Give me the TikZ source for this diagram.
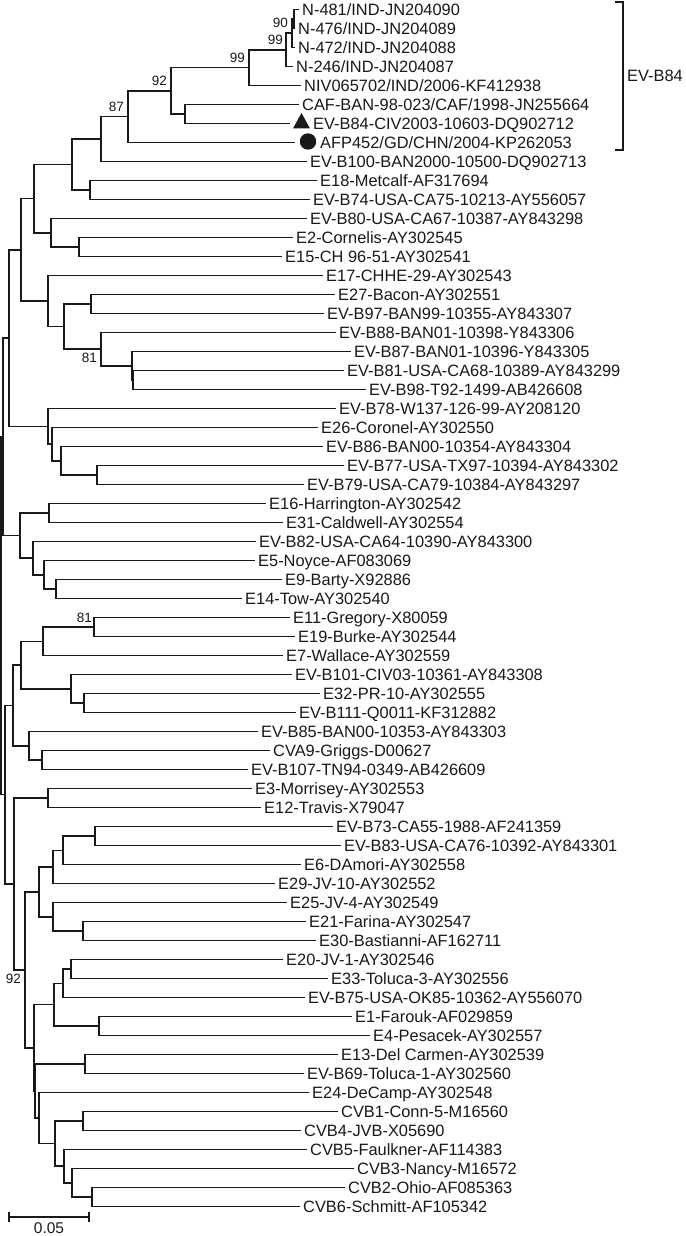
\documentclass[tikz,border=0pt]{standalone}
\usepackage{fontspec}
\setmainfont{Liberation Sans}
\usetikzlibrary{calc,positioning}

\newcommand{\mkclade}[4]{%
  \path (#3) -- (#4) coordinate[pos=.5] (#1m);
  \coordinate (#1) at (#2,0 |- #1m);
  \draw[branch] (#3) -| (#1) |- (#4);
}

\begin{document}
\begin{tikzpicture}[x=1pt, y=-1pt, black!90,
    branch/.style = {line width=1.5pt},
    leaf/.style = {anchor=west, inner xsep=3pt, inner ysep=0pt, text height=11.7pt, text depth=0pt, font=\fontsize{16.4}{18}\selectfont},
    boot/.style = {inner sep=0pt, font=\fontsize{13.5}{15}\selectfont},
    bracket/.style = {line width=1.1pt},
    scalebar/.style = {line width=2.5pt}]
\useasboundingbox (0,0) rectangle (685,1236);

\foreach \t/\name [count=\i] in {
    299/{N-481/IND-JN204090}, 295/{N-476/IND-JN204089}, 295/{N-472/IND-JN204088}, 293/{N-246/IND-JN204087},
    301/{NIV065702/IND/2006-KF412938}, 299/{CAF-BAN-98-023/CAF/1998-JN255664},
    290/{\hspace*{20pt}EV-B84-CIV2003-10603-DQ902712}, 295/{\hspace*{22pt}AFP452/GD/CHN/2004-KP262053},
    307/{EV-B100-BAN2000-10500-DQ902713}, 317/{E18-Metcalf-AF317694}, 310/{EV-B74-USA-CA75-10213-AY556057},
    307/{EV-B80-USA-CA67-10387-AY843298}, 293/{E2-Cornelis-AY302545}, 282/{E15-CH 96-51-AY302541},
    323/{E17-CHHE-29-AY302543}, 335/{E27-Bacon-AY302551}, 324/{EV-B97-BAN99-10355-AY843307},
    336/{EV-B88-BAN01-10398-Y843306}, 351/{EV-B87-BAN01-10396-Y843305}, 344/{EV-B81-USA-CA68-10389-AY843299},
    366/{EV-B98-T92-1499-AB426608}, 336/{EV-B78-W137-126-99-AY208120}, 318/{E26-Coronel-AY302550},
    323/{EV-B86-BAN00-10354-AY843304}, 344/{EV-B77-USA-TX97-10394-AY843302}, 304/{EV-B79-USA-CA79-10384-AY843297},
    266/{E16-Harrington-AY302542}, 283/{E31-Caldwell-AY302554}, 256/{EV-B82-USA-CA64-10390-AY843300},
    255/{E5-Noyce-AF083069}, 282/{E9-Barty-X92886}, 242/{E14-Tow-AY302540},
    290/{E11-Gregory-X80059}, 295/{E19-Burke-AY302544}, 283/{E7-Wallace-AY302559},
    292/{EV-B101-CIV03-10361-AY843308}, 320/{E32-PR-10-AY302555}, 296/{EV-B111-Q0011-KF312882},
    258/{EV-B85-BAN00-10353-AY843303}, 270/{CVA9-Griggs-D00627}, 248/{EV-B107-TN94-0349-AB426609},
    252/{E3-Morrisey-AY302553}, 261/{E12-Travis-X79047}, 333/{EV-B73-CA55-1988-AF241359},
    341/{EV-B83-USA-CA76-10392-AY843301}, 301/{E6-DAmori-AY302558}, 275/{E29-JV-10-AY302552},
    287/{E25-JV-4-AY302549}, 306/{E21-Farina-AY302547}, 316/{E30-Bastianni-AF162711},
    283/{E20-JV-1-AY302546}, 328/{E33-Toluca-3-AY302556}, 305/{EV-B75-USA-OK85-10362-AY556070},
    352/{E1-Farouk-AF029859}, 370/{E4-Pesacek-AY302557}, 338/{E13-Del Carmen-AY302539},
    304/{EV-B69-Toluca-1-AY302560}, 309/{E24-DeCamp-AY302548}, 338/{CVB1-Conn-5-M16560},
    301/{CVB4-JVB-X05690}, 307/{CVB5-Faulkner-AF114383}, 354/{CVB3-Nancy-M16572},
    345/{CVB2-Ohio-AF085363}, 300/{CVB6-Schmitt-AF105342}}
  \node[leaf] (l\i) at (\t,{9.5+19*(\i-1)}) {\name};

\fill (293,128.5) -- (310,128.5) -- (301.5,113) -- cycle;
\fill (308,141.5) circle (8.2);

\mkclade{nY}{294}{l1.west}{l2.west}
\mkclade{nX}{292}{nY}{l3.west}
\mkclade{n99b}{286}{nX}{l4.west}
\mkclade{n99a}{249}{n99b}{l5.west}
\mkclade{nCAF}{185}{l6.west}{l7.west}
\mkclade{n92}{171}{n99a}{nCAF}
\mkclade{n87}{128}{n92}{l8.west}
\mkclade{n101}{101}{n87}{l9.west}
\mkclade{nE18}{90}{l10.west}{l11.west}
\mkclade{n72}{72}{n101}{nE18}
\mkclade{nE2}{79}{l13.west}{l14.west}
\mkclade{n51}{51}{l12.west}{nE2}
\mkclade{n34}{34}{n72}{n51}
\mkclade{nE27}{91}{l16.west}{l17.west}
\mkclade{nB81}{133}{l20.west}{l21.west}
\mkclade{nB87}{132}{l19.west}{nB81}
\mkclade{n81}{101}{l18.west}{nB87}
\mkclade{n64}{64}{nE27}{n81}
\mkclade{n48}{48}{l15.west}{n64}
\mkclade{n21}{21}{n34}{n48}
\mkclade{nB77}{97}{l25.west}{l26.west}
\mkclade{nB86}{61}{l24.west}{nB77}
\mkclade{nE26}{52}{l23.west}{nB86}
\mkclade{nB78}{48}{l22.west}{nE26}
\mkclade{n9}{9}{n21}{nB78}
\mkclade{nE16}{49}{l27.west}{l28.west}
\mkclade{nE9}{56}{l31.west}{l32.west}
\mkclade{nE5}{44}{l30.west}{nE9}
\mkclade{nB82}{33}{l29.west}{nE5}
\mkclade{n20}{20}{nE16}{nB82}
\mkclade{n3}{3}{n9}{n20}
\mkclade{n94}{94}{l33.west}{l34.west}
\mkclade{nE7}{43}{n94}{l35.west}
\mkclade{nE32}{84}{l37.west}{l38.west}
\mkclade{nB101}{71}{l36.west}{nE32}
\mkclade{nE11}{21}{nE7}{nB101}
\mkclade{nCVA9}{42}{l40.west}{l41.west}
\mkclade{nB85}{29}{l39.west}{nCVA9}
\mkclade{n13}{13}{nE11}{nB85}
\mkclade{nE3}{48}{l42.west}{l43.west}
\mkclade{nB73}{95}{l44.west}{l45.west}
\mkclade{nE6}{63}{nB73}{l46.west}
\mkclade{nE29}{53}{nE6}{l47.west}
\mkclade{nE21}{83}{l49.west}{l50.west}
\mkclade{nE25}{53}{l48.west}{nE21}
\mkclade{n39}{39}{nE29}{nE25}
\mkclade{nE20}{71}{l51.west}{l52.west}
\mkclade{nB75}{63}{nE20}{l53.west}
\mkclade{nE1}{99}{l54.west}{l55.west}
\mkclade{n54}{54}{nB75}{nE1}
\mkclade{nE13}{85}{l56.west}{l57.west}
\mkclade{nCVB1}{83}{l59.west}{l60.west}
\mkclade{nCVB2}{92}{l63.west}{l64.west}
\mkclade{nCVB3}{72}{l62.west}{nCVB2}
\mkclade{nCVB5}{64}{l61.west}{nCVB3}
\mkclade{n55}{55}{nCVB1}{nCVB5}
\mkclade{nE24}{39}{l58.west}{n55}
\mkclade{n35}{35}{nE13}{nE24}
\mkclade{n34b}{34}{n54}{n35}
\mkclade{n25}{25}{n39}{n34b}
\mkclade{n14}{14}{nE3}{n25}
\mkclade{n5}{5}{n13}{n14}
\mkclade{root}{1}{n3}{n5}

\node[boot, above left=5pt and 4pt of nX] (b90) {90};
\node[boot, above left=5pt and 3pt of n99b] (b99b) {99};
\node[boot, above left=5pt and 4pt of n99a] (b99a) {99};
\node[boot, above left=5pt and 4pt of n92] (b92) {92};
\node[boot, above left=5pt and 4pt of n87] (b87) {87};
\node[boot, below left=4pt and 4pt of n81] (b81) {81};
\node[boot, above left=4pt and 2pt of n94] (b81b) {81};
\node[boot, below left=4pt and 4pt of n25] (b92b) {92};

\coordinate (gtop) at (615,2);
\coordinate (gbot) at (615,150);
\node[leaf] (grp) at (624,76) {EV-B84};
\draw[bracket] (gtop) -| ([xshift=-1pt]grp.west) |- (gbot);

\coordinate (s0) at (9,1217);
\coordinate (s1) at (89,1217);
\draw[scalebar] (s0) -- (s1);
\draw[branch] ([yshift=5pt]s0) -- ([yshift=-5pt]s0);
\draw[branch] ([yshift=5pt]s1) -- ([yshift=-5pt]s1);
\node[boot, font=\fontsize{15.5}{17}\selectfont, below=5pt of $(s0)!.5!(s1)$] (sl) {0.05};
\end{tikzpicture}
\end{document}
